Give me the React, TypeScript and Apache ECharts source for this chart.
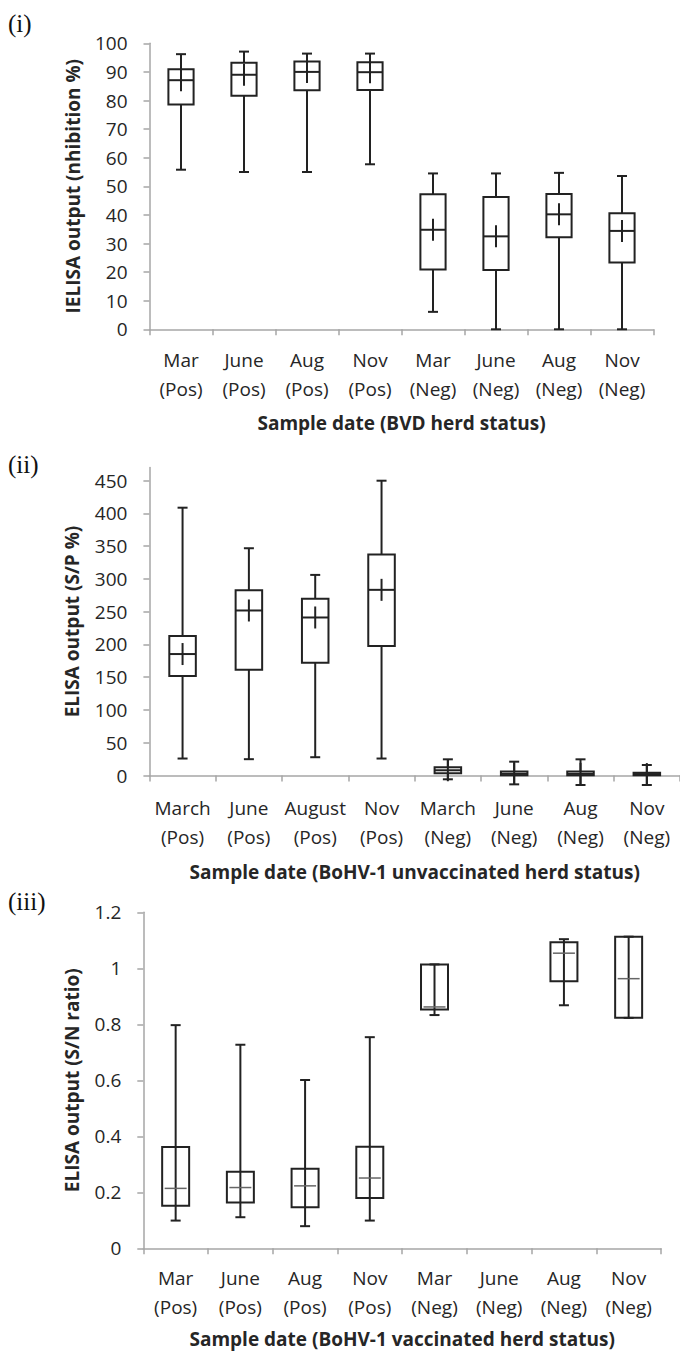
import React, { useEffect, useRef } from "react";
import * as echarts from "echarts";

// ---------- Data ----------
const bvdCategories = ["Mar\n(Pos)", "June\n(Pos)", "Aug\n(Pos)", "Nov\n(Pos)", "Mar\n(Neg)", "June\n(Neg)", "Aug\n(Neg)", "Nov\n(Neg)"];
const bvdMin = [55.8, 55.0, 55.0, 57.7, 6.1, 0, 0, 0];
const bvdQ1 = [78.6, 81.7, 83.6, 83.7, 20.9, 20.7, 32.2, 23.4];
const bvdMedian = [87.1, 89.0, 90.0, 89.9, 34.8, 32.5, 40.2, 34.4];
const bvdQ3 = [90.9, 93.2, 93.6, 93.4, 47.2, 46.3, 47.3, 40.6];
const bvdMax = [96.2, 97.1, 96.4, 96.4, 54.5, 54.5, 54.7, 53.6];

const unvacCategories = ["March\n(Pos)", "June\n(Pos)", "August\n(Pos)", "Nov\n(Pos)", "March\n(Neg)", "June\n(Neg)", "Aug\n(Neg)", "Nov\n(Neg)"];
const unvacMin = [25.9, 24.9, 27.9, 25.9, -5.8, -13.5, -14.5, -14.5];
const unvacQ1 = [151.9, 161.5, 172.2, 197.6, 3.3, 0.3, 0.3, 0.5];
const unvacMedian = [185.4, 251.9, 241.2, 283.4, 8.0, 2.5, 2.5, 2.2];
const unvacQ3 = [212.8, 282.9, 269.7, 337.2, 12.5, 6.0, 6.0, 4.3];
const unvacMax = [408.8, 346.9, 306.2, 450, 24.7, 21.1, 24.7, 16.0];
const unvacTicks = [0, 50, 100, 150, 200, 250, 300, 350, 400, 450];

const vacCategories = ["Mar\n(Pos)", "June\n(Pos)", "Aug\n(Pos)", "Nov\n(Pos)", "Mar\n(Neg)", "June\n(Neg)", "Aug\n(Neg)", "Nov\n(Neg)"];
const vacMin = [0.099, 0.111, 0.079, 0.099, 0.833, null, 0.868, 0.823];
const vacQ1 = [0.152, 0.164, 0.147, 0.180, 0.853, null, 0.954, 0.823];
const vacMedian = [0.214, 0.217, 0.223, 0.251, 0.862, null, 1.054, 0.963];
const vacQ3 = [0.362, 0.273, 0.284, 0.363, 1.014, null, 1.093, 1.113];
const vacMax = [0.797, 0.727, 0.601, 0.754, 1.014, null, 1.104, 1.113];

const FONT = "Open Sans";
const TEXT = "#262626";
const AXIS = "#a6a6a6";
const INK = "#222222";

function buildData(mins: any[], q1s: any[], meds: any[], q3s: any[], maxs: any[]) {
  const out: any[] = [];
  mins.forEach((m, i) => {
    if (m === null || m === undefined) return;
    out.push([i, m, q1s[i], meds[i], q3s[i], maxs[i]]);
  });
  return out;
}

function makeRender(cfg: { ratio: number; throughWhisker: boolean; medianInset: number; medianColor: string; medianWidth: number }) {
  return (params: any, api: any) => {
    const x = api.value(0);
    const pMin = api.coord([x, api.value(1)]);
    const pQ1 = api.coord([x, api.value(2)]);
    const pMed = api.coord([x, api.value(3)]);
    const pQ3 = api.coord([x, api.value(4)]);
    const pMax = api.coord([x, api.value(5)]);
    const cx = pMed[0];
    const band = api.size([1, 0])[0];
    const w = band * cfg.ratio;
    const cap = 10;
    const ls = { stroke: INK, lineWidth: 2, fill: "none" };
    const children: any[] = [];
    if (cfg.throughWhisker) {
      children.push({ type: "line", shape: { x1: cx, y1: pMax[1], x2: cx, y2: pMin[1] }, style: { stroke: INK, lineWidth: 2 } });
    } else {
      children.push({ type: "line", shape: { x1: cx, y1: pMax[1], x2: cx, y2: pQ3[1] }, style: ls });
      children.push({ type: "line", shape: { x1: cx, y1: pQ1[1], x2: cx, y2: pMin[1] }, style: ls });
      children.push({ type: "line", shape: { x1: cx, y1: pMed[1] - 11, x2: cx, y2: pMed[1] + 11 }, style: { stroke: INK, lineWidth: 2 } });
    }
    children.push({ type: "line", shape: { x1: cx - cap / 2, y1: pMax[1], x2: cx + cap / 2, y2: pMax[1] }, style: ls });
    children.push({ type: "line", shape: { x1: cx - cap / 2, y1: pMin[1], x2: cx + cap / 2, y2: pMin[1] }, style: ls });
    children.push({
      type: "rect",
      shape: { x: cx - w / 2, y: pQ3[1], width: w, height: pQ1[1] - pQ3[1] },
      style: { stroke: INK, lineWidth: 2, fill: "none" },
    });
    children.push({
      type: "line",
      shape: { x1: cx - w / 2 + cfg.medianInset, y1: pMed[1], x2: cx + w / 2 - cfg.medianInset, y2: pMed[1] },
      style: { stroke: cfg.medianColor, lineWidth: cfg.medianWidth },
    });
    return { type: "group", children };
  };
}

function xAxisCfg(gridIndex: number, data: string[], name: string, nameGap: number, margin: number) {
  return {
    type: "category",
    gridIndex,
    data,
    boundaryGap: true,
    axisLine: { show: true, lineStyle: { color: AXIS, width: 1.5 } },
    axisTick: { show: true, length: 6, lineStyle: { color: AXIS, width: 1.5 } },
    axisLabel: { interval: 0, margin, lineHeight: 29, fontSize: 19, fontFamily: FONT, color: TEXT },
    splitLine: { show: false },
    name,
    nameLocation: "middle",
    nameGap,
    nameTextStyle: { fontSize: 19, fontWeight: "bold", fontFamily: FONT, color: TEXT, lineHeight: 22 },
  };
}

function yAxisCfg(gridIndex: number, name: string, nameGap: number, extra: any) {
  return {
    type: "value",
    gridIndex,
    axisLine: { show: true, lineStyle: { color: AXIS, width: 1.5 } },
    axisTick: { show: true, length: 6, lineStyle: { color: AXIS, width: 1.5 } },
    splitLine: { show: false },
    name,
    nameLocation: "middle",
    nameGap,
    nameTextStyle: { fontSize: 19, fontWeight: "bold", fontFamily: FONT, color: TEXT, lineHeight: 22 },
    ...extra,
  };
}

export default function App() {
  const ref = useRef<HTMLDivElement>(null);
  useEffect(() => {
    if (!ref.current) return;
    const chart = echarts.init(ref.current, null, { renderer: "svg" });
    const labelStyle = { fontSize: 19, fontFamily: FONT, color: TEXT, margin: 22 };
    const panelLabel = "25px 'Liberation Serif'";
    const option: any = {
      animation: false,
      backgroundColor: "#ffffff",
      grid: [
        { left: 149.5, top: 43.3, width: 504, height: 286 },
        { left: 149.4, top: 467.6, width: 531.2, height: 307.9 },
        { left: 143.3, top: 912.3, width: 517.7, height: 336 },
      ],
      xAxis: [
        xAxisCfg(0, bvdCategories, "Sample date (BVD herd status)", 83, 16),
        xAxisCfg(1, unvacCategories, "Sample date (BoHV-1 unvaccinated herd status)", 85, 18),
        xAxisCfg(2, vacCategories, "Sample date (BoHV-1 vaccinated herd status)", 80, 15),
      ],
      yAxis: [
        yAxisCfg(0, "IELISA output (nhibition %)", 66, { min: 0, max: 100, interval: 10, axisLabel: { ...labelStyle } }),
        yAxisCfg(1, "ELISA output (S/P %)", 66, {
          min: 0,
          max: 470,
          interval: 50,
          axisLabel: { ...labelStyle, customValues: unvacTicks },
          axisTick: { show: true, length: 6, lineStyle: { color: AXIS, width: 1.5 }, customValues: unvacTicks },
        }),
        yAxisCfg(2, "ELISA output (S/N ratio)", 60, {
          min: 0,
          max: 1.2,
          interval: 0.2,
          axisLabel: { ...labelStyle, formatter: (v: number) => String(+v.toFixed(1)) },
        }),
      ],
      series: [
        {
          type: "custom",
          xAxisIndex: 0,
          yAxisIndex: 0,
          renderItem: makeRender({ ratio: 0.4, throughWhisker: false, medianInset: 0, medianColor: INK, medianWidth: 2 }),
          encode: { x: 0, y: [1, 2, 3, 4, 5] },
          data: buildData(bvdMin, bvdQ1, bvdMedian, bvdQ3, bvdMax),
          clip: false,
        },
        {
          type: "custom",
          xAxisIndex: 1,
          yAxisIndex: 1,
          renderItem: makeRender({ ratio: 0.4, throughWhisker: false, medianInset: 0, medianColor: INK, medianWidth: 2 }),
          encode: { x: 0, y: [1, 2, 3, 4, 5] },
          data: buildData(unvacMin, unvacQ1, unvacMedian, unvacQ3, unvacMax),
          clip: false,
        },
        {
          type: "custom",
          xAxisIndex: 2,
          yAxisIndex: 2,
          renderItem: makeRender({ ratio: 0.417, throughWhisker: true, medianInset: 2.5, medianColor: "#666666", medianWidth: 1.5 }),
          encode: { x: 0, y: [1, 2, 3, 4, 5] },
          data: buildData(vacMin, vacQ1, vacMedian, vacQ3, vacMax),
          clip: false,
        },
      ],
      graphic: [
        { type: "text", left: 8, top: 11, style: { text: "(i)", font: panelLabel, fill: "#111" } },
        { type: "text", left: 8, top: 452, style: { text: "(ii)", font: panelLabel, fill: "#111" } },
        { type: "text", left: 8, top: 889, style: { text: "(iii)", font: panelLabel, fill: "#111" } },
      ],
    };
    chart.setOption(option);
    return () => chart.dispose();
  }, []);
  return <div ref={ref} style={{ position: "absolute", left: 0, top: 0, width: 680, height: 1352 }} />;
}
